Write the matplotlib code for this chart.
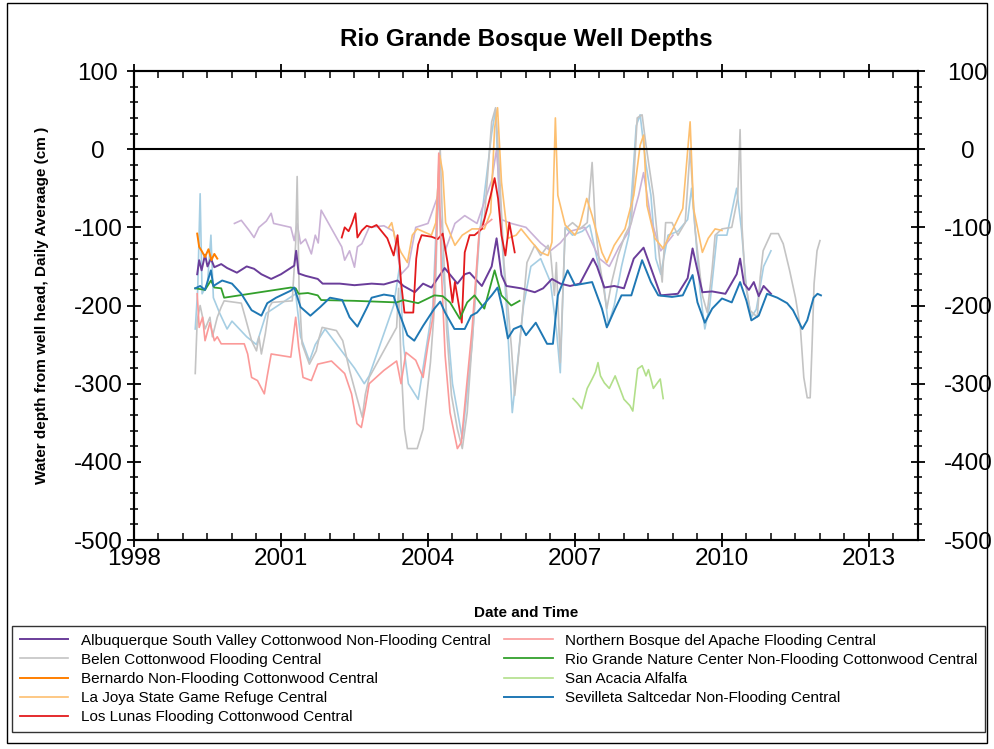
import numpy as np
import matplotlib
matplotlib.use("Agg")
import matplotlib.pyplot as plt
from matplotlib.ticker import MultipleLocator
from matplotlib.patches import Rectangle

plt.rcParams['font.family'] = ['Liberation Sans', 'DejaVu Sans']
plt.rcParams['axes.unicode_minus'] = False

# ---------------- data (decimal year, depth cm) ----------------
abq = [(1999.29,-160),(1999.33,-142),(1999.38,-155),(1999.45,-135),(1999.5,-150),(1999.57,-140),
       (1999.64,-151),(1999.78,-147),(1999.9,-152),(2000.1,-158),(2000.3,-150),(2000.45,-153),
       (2000.6,-160),(2000.8,-166),(2001.0,-160),(2001.27,-149),(2001.31,-130),(2001.36,-159),
       (2001.5,-162),(2001.75,-166),(2001.85,-172),(2002.2,-172),(2002.5,-174),(2002.85,-172),
       (2003.1,-173),(2003.38,-168),(2003.5,-175),(2003.73,-183),(2003.9,-172),(2004.07,-177),
       (2004.2,-165),(2004.34,-152),(2004.6,-172),(2004.75,-160),(2004.85,-158),(2005.1,-175),
       (2005.3,-150),(2005.4,-114),(2005.5,-161),(2005.6,-175),(2005.9,-178),(2006.18,-183),
       (2006.35,-178),(2006.53,-166),(2006.7,-172),(2006.9,-175),(2007.1,-172),(2007.37,-140),
       (2007.45,-150),(2007.6,-177),(2007.8,-175),(2008.0,-178),(2008.2,-140),(2008.4,-126),
       (2008.55,-152),(2008.75,-187),(2009.1,-185),(2009.3,-165),(2009.4,-127),(2009.6,-183),
       (2009.8,-182),(2010.07,-185),(2010.3,-160),(2010.37,-140),(2010.45,-172),(2010.55,-180),
       (2010.65,-170),(2010.75,-188),(2010.85,-175),(2011.0,-185)]

belen = [(1999.25,-287),(1999.29,-219),(1999.35,-200),(1999.45,-230),(1999.55,-215),(1999.6,-240),
         (1999.7,-215),(1999.78,-202),(1999.84,-194),(2000.19,-197),(2000.27,-215),(2000.4,-245),
         (2000.5,-258),(2000.55,-240),(2000.6,-262),(2000.68,-236),(2000.76,-202),(2000.82,-196),
         (2001.23,-194),(2001.3,-120),(2001.33,-35),(2001.37,-180),(2001.43,-249),(2001.58,-275),
         (2001.72,-258),(2001.78,-241),(2001.84,-228),(2002.13,-232),(2002.26,-245),(2002.4,-283),
         (2002.55,-318),(2002.66,-343),(2002.72,-314),(2002.8,-292),(2003.36,-228),(2003.4,-178),
         (2003.45,-273),(2003.52,-358),(2003.58,-383),(2003.78,-383),(2003.9,-358),(2004.05,-273),
         (2004.15,-187),(2004.22,-20),(2004.25,0),(2004.3,-102),(2004.38,-230),(2004.48,-315),
         (2004.6,-358),(2004.7,-383),(2004.8,-337),(2004.92,-230),(2005.05,-102),(2005.15,-89),
         (2005.3,35),(2005.38,53),(2005.45,-17),(2005.55,-145),(2005.7,-251),(2005.77,-315),
         (2005.9,-230),(2006.02,-145),(2006.18,-123),(2006.3,-136),(2006.45,-123),(2006.5,-132),
         (2006.58,-187),(2006.62,-145),(2006.7,-273),(2006.75,-187),(2006.8,-102),(2006.95,-94),
         (2007.1,-102),(2007.25,-94),(2007.35,-17),(2007.42,-102),(2007.5,-145),(2007.65,-204),
         (2007.75,-170),(2007.88,-136),(2008.02,-110),(2008.15,-94),(2008.27,40),(2008.37,44),
         (2008.45,5),(2008.6,-59),(2008.72,-136),(2008.78,-170),(2008.85,-94),(2008.98,-94),
         (2009.1,-110),(2009.25,-94),(2009.35,0),(2009.45,-102),(2009.6,-187),(2009.7,-209),
         (2009.8,-153),(2009.86,-110),(2010.0,-102),(2010.2,-100),(2010.27,-78),(2010.32,-62),
         (2010.37,25),(2010.41,-100),(2010.47,-164),(2010.57,-206),(2010.72,-215),(2010.78,-164),
         (2010.84,-130),(2011.0,-108),(2011.15,-108),(2011.25,-121),(2011.38,-155),(2011.5,-190),
         (2011.6,-228),(2011.67,-292),(2011.74,-318),(2011.8,-318),(2011.84,-249),(2011.88,-172),
         (2011.94,-130),(2012.0,-117)]

bernardo = [(1999.29,-108),(1999.33,-125),(1999.38,-130),(1999.45,-138),(1999.52,-128),
            (1999.58,-142),(1999.64,-134),(1999.7,-140)]

lajoya = [(2003.2,-100),(2003.26,-94),(2003.32,-112),(2003.45,-132),(2003.58,-145),(2003.68,-110),
          (2003.78,-102),(2004.07,-110),(2004.16,-94),(2004.24,-8),(2004.3,-29),(2004.36,-94),
          (2004.55,-123),(2004.7,-110),(2004.9,-102),(2005.15,-102),(2005.28,-81),(2005.36,27),
          (2005.42,53),(2005.5,-42),(2005.63,-114),(2005.8,-110),(2005.9,-102),(2006.12,-119),
          (2006.3,-132),(2006.45,-136),(2006.53,-119),(2006.6,40),(2006.65,-59),(2006.8,-97),
          (2007.0,-110),(2007.1,-97),(2007.24,-63),(2007.35,-85),(2007.55,-132),(2007.65,-145),
          (2007.8,-123),(2008.02,-102),(2008.2,-59),(2008.33,5),(2008.4,18),(2008.47,-72),
          (2008.63,-114),(2008.8,-127),(2009.04,-97),(2009.2,-76),(2009.35,35),(2009.42,-76),
          (2009.6,-132),(2009.72,-114),(2009.86,-102),(2010.0,-104)]

loslunas = [(2002.24,-113),(2002.3,-100),(2002.38,-105),(2002.45,-95),(2002.52,-82),(2002.56,-113),
            (2002.65,-104),(2002.75,-98),(2002.85,-100),(2002.95,-97),(2003.17,-114),(2003.3,-136),
            (2003.38,-110),(2003.45,-170),(2003.52,-209),(2003.7,-209),(2003.76,-140),(2003.8,-122),
            (2003.87,-110),(2004.07,-112),(2004.2,-115),(2004.3,-108),(2004.4,-145),(2004.5,-196),
            (2004.55,-170),(2004.69,-222),(2004.75,-132),(2004.85,-110),(2004.95,-110),(2005.1,-102),
            (2005.28,-59),(2005.36,-37),(2005.43,-63),(2005.5,-110),(2005.58,-136),(2005.66,-94),
            (2005.77,-132)]

nbosque = [(1999.29,-185),(1999.33,-228),(1999.4,-215),(1999.45,-245),(1999.55,-222),(1999.64,-245),
           (1999.7,-240),(1999.78,-249),(2000.25,-249),(2000.32,-262),(2000.4,-292),(2000.52,-296),
           (2000.66,-313),(2000.72,-290),(2000.8,-262),(2001.2,-266),(2001.3,-215),(2001.36,-253),
           (2001.45,-292),(2001.62,-296),(2001.75,-275),(2002.03,-271),(2002.3,-287),(2002.44,-313),
           (2002.55,-351),(2002.64,-356),(2002.72,-330),(2002.8,-300),(2003.1,-283),(2003.36,-271),
           (2003.45,-300),(2003.55,-260),(2003.75,-270),(2003.9,-292),(2004.0,-250),(2004.1,-215),
           (2004.17,-120),(2004.22,-5),(2004.27,-150),(2004.35,-264),(2004.45,-337),(2004.6,-383),
           (2004.68,-375),(2004.77,-315),(2004.9,-230),(2004.96,-178),(2005.05,-102),(2005.2,-95),
           (2005.3,-90)]

rgnc = [(1999.25,-178),(1999.45,-180),(1999.57,-168),(1999.64,-177),(1999.78,-178),(1999.84,-190),
        (2001.2,-177),(2001.3,-178),(2001.36,-185),(2001.55,-184),(2001.75,-187),(2001.82,-193),
        (2002.5,-194),(2003.36,-196),(2003.5,-193),(2003.8,-197),(2004.13,-187),(2004.3,-188),
        (2004.45,-196),(2004.65,-217),(2004.8,-196),(2004.95,-187),(2005.15,-204),(2005.36,-155),
        (2005.5,-187),(2005.7,-200),(2005.87,-194)]

sanacacia = [(2006.96,-319),(2007.05,-325),(2007.14,-332),(2007.25,-306),(2007.35,-294),(2007.42,-285),
             (2007.47,-273),(2007.52,-290),(2007.6,-299),(2007.7,-306),(2007.82,-290),(2007.88,-300),
             (2008.0,-320),(2008.12,-328),(2008.18,-335),(2008.28,-281),(2008.37,-277),(2008.45,-290),
             (2008.5,-282),(2008.6,-306),(2008.67,-300),(2008.74,-294),(2008.8,-319)]

sevilleta = [(1999.25,-178),(1999.35,-175),(1999.45,-180),(1999.57,-155),(1999.62,-175),(1999.8,-168),
             (2000.0,-172),(2000.19,-185),(2000.4,-206),(2000.6,-213),(2000.72,-197),(2000.9,-190),
             (2001.2,-181),(2001.27,-177),(2001.4,-202),(2001.6,-213),(2001.8,-202),(2002.0,-190),
             (2002.25,-193),(2002.4,-215),(2002.56,-227),(2002.76,-202),(2002.85,-190),(2003.1,-186),
             (2003.3,-188),(2003.38,-204),(2003.58,-238),(2003.72,-245),(2003.9,-226),(2004.13,-204),
             (2004.25,-195),(2004.35,-209),(2004.54,-230),(2004.75,-230),(2004.88,-213),(2005.0,-209),
             (2005.3,-187),(2005.42,-177),(2005.52,-204),(2005.63,-242),(2005.75,-230),(2005.9,-226),
             (2006.0,-238),(2006.2,-222),(2006.43,-249),(2006.55,-249),(2006.65,-187),(2006.85,-155),
             (2007.0,-174),(2007.35,-170),(2007.55,-204),(2007.65,-228),(2007.82,-204),(2007.95,-187),
             (2008.15,-187),(2008.37,-142),(2008.55,-170),(2008.7,-187),(2008.98,-189),(2009.2,-187),
             (2009.4,-161),(2009.5,-196),(2009.65,-222),(2009.8,-204),(2010.0,-191),(2010.2,-196),
             (2010.37,-170),(2010.5,-194),(2010.6,-219),(2010.75,-213),(2010.92,-185),(2011.13,-190),
             (2011.33,-197),(2011.45,-206),(2011.64,-230),(2011.74,-219),(2011.87,-190),(2011.95,-185),
             (2012.02,-187)]

# wells drawn but not listed in the legend
lightblue_well = [(1999.25,-230),(1999.3,-180),(1999.35,-57),(1999.39,-185),(1999.5,-172),(1999.57,-110),
                  (1999.62,-190),(1999.75,-210),(1999.9,-230),(2000.0,-220),(2000.3,-240),(2000.5,-250),
                  (2000.7,-210),(2001.3,-185),(2001.4,-240),(2001.58,-271),(2001.7,-250),(2001.9,-230),
                  (2002.5,-280),(2002.7,-300),(2002.8,-290),(2003.3,-200),(2003.42,-150),(2003.5,-250),
                  (2003.6,-300),(2003.8,-320),(2004.1,-200),(2004.2,-50),(2004.3,-150),(2004.5,-300),
                  (2004.7,-370),(2004.9,-250),(2005.05,-110),(2005.3,20),(2005.38,50),(2005.45,-60),
                  (2005.6,-200),(2005.72,-337),(2005.8,-290),(2005.95,-200),(2006.1,-150),(2006.3,-140),
                  (2006.5,-170),(2006.62,-230),(2006.7,-286),(2006.8,-100),(2006.95,-110),(2007.15,-105),
                  (2007.3,-97),(2007.45,-140),(2007.6,-180),(2007.68,-225),(2007.8,-200),(2007.95,-150),
                  (2008.1,-110),(2008.25,30),(2008.33,44),(2008.45,-20),(2008.55,-59),(2008.65,-140),
                  (2008.75,-160),(2008.9,-110),(2009.1,-105),(2009.3,-90),(2009.38,-50),(2009.45,-100),
                  (2009.55,-180),(2009.65,-230),(2009.75,-200),(2009.9,-110),(2010.1,-110),(2010.3,-50),
                  (2010.4,-104),(2010.5,-180),(2010.6,-215),(2010.7,-205),(2010.85,-150),(2011.0,-130)]

lavender_well = [(2000.05,-95),(2000.19,-91),(2000.35,-104),(2000.45,-113),(2000.55,-100),(2000.7,-92),
                 (2000.8,-82),(2000.85,-95),(2001.2,-100),(2001.27,-117),(2001.33,-95),(2001.4,-121),
                 (2001.5,-115),(2001.62,-134),(2001.7,-110),(2001.76,-120),(2001.82,-78),(2002.24,-125),
                 (2002.3,-142),(2002.4,-130),(2002.5,-151),(2002.56,-125),(2002.65,-121),(2002.8,-100),
                 (2003.1,-98),(2003.3,-105),(2003.45,-160),(2003.6,-150),(2003.75,-100),(2004.0,-95),
                 (2004.2,-60),(2004.35,-130),(2004.55,-95),(2004.75,-85),(2005.0,-95),(2005.3,-40),
                 (2005.4,0),(2005.5,-90),(2005.7,-95),(2006.0,-100),(2006.3,-120),(2006.5,-130),
                 (2006.7,-120),(2006.9,-105),(2007.2,-100),(2007.5,-140),(2007.7,-150),(2007.9,-125),
                 (2008.1,-105),(2008.3,-59),(2008.4,-30),(2008.55,-90),(2008.75,-130),(2009.0,-110)]

series = [
    ("Albuquerque South Valley Cottonwood Non-Flooding Central", abq, "#6a3d9a", 1.4),
    ("Belen Cottonwood Flooding Central", belen, "#c4c4c4", 1.2),
    ("Bernardo Non-Flooding Cottonwood Central", bernardo, "#ff7f00", 1.4),
    ("La Joya State Game Refuge Central", lajoya, "#fdbf6f", 1.2),
    ("Los Lunas Flooding Cottonwood Central", loslunas, "#e31a1c", 1.3),
    ("Northern Bosque del Apache Flooding Central", nbosque, "#fb9a99", 1.2),
    ("Rio Grande Nature Center Non-Flooding Cottonwood Central", rgnc, "#33a02c", 1.3),
    ("San Acacia Alfalfa", sanacacia, "#b2df8a", 1.2),
    ("Sevilleta Saltcedar Non-Flooding Central", sevilleta, "#1f78b4", 1.4),
]
extra = [(lightblue_well, "#a6cee3"), (lavender_well, "#cab2d6")]

fig = plt.figure(figsize=(9.94, 7.49), dpi=100)
ax = fig.add_axes([0.1348, 0.279, 0.7887, 0.6262])

for data, col in extra:
    d = np.array(data).T
    ax.plot(d[0], d[1], color=col, lw=1.2, zorder=2)

order_z = {"Belen Cottonwood Flooding Central": 2.5}
handles = []
for name, data, col, lw in series:
    d = np.array(data).T
    ln, = ax.plot(d[0], d[1], color=col, lw=lw, label=name, zorder=order_z.get(name, 3))
    handles.append(ln)

ax.axhline(0, color='black', lw=1.5, zorder=4)

ax.set_xlim(1998, 2014)
ax.set_ylim(-500, 100)
ax.xaxis.set_major_locator(MultipleLocator(3))
ax.xaxis.set_minor_locator(MultipleLocator(0.5))
ax.yaxis.set_major_locator(MultipleLocator(100))
ax.yaxis.set_minor_locator(MultipleLocator(20))
ax.xaxis.set_major_formatter(plt.FuncFormatter(lambda v, p: f"{int(round(v))}"))
ax.tick_params(axis='y', which='major', direction='inout', length=10, width=1.3,
               left=True, right=False, labelsize=17.5, pad=21)
ax.tick_params(axis='y', which='minor', direction='inout', length=6, width=1.1, left=True, right=False)
ax.tick_params(axis='x', which='major', direction='inout', length=10, width=1.3,
               top=True, labelsize=17.5, pad=1)
ax.tick_params(axis='x', which='minor', direction='in', length=5, width=1.1, top=True)
for lab in ax.get_yticklabels():
    lab.set_horizontalalignment('center')
for s in ax.spines.values():
    s.set_linewidth(1.5)

# right-hand axis duplicating the depth scale
ax2 = ax.twinx()
ax2.set_ylim(-500, 100)
ax2.yaxis.set_major_locator(MultipleLocator(100))
ax2.yaxis.set_minor_locator(MultipleLocator(20))
ax2.tick_params(axis='y', which='major', direction='inout', length=10, width=1.3, labelsize=17.5, pad=31)
ax2.tick_params(axis='y', which='minor', direction='inout', length=6, width=1.1)
for lab in ax2.get_yticklabels():
    lab.set_horizontalalignment('center')
for s in ax2.spines.values():
    s.set_linewidth(1.5)

ax.set_title("Rio Grande Bosque Well Depths", fontsize=17.5, fontweight='bold', pad=18)
ax.set_xlabel("Date and Time", fontsize=11, fontweight='bold', labelpad=26)
ax.set_ylabel("Water depth from well head, Daily Averaage (cm )", fontsize=11, fontweight='bold')
ax.yaxis.set_label_coords(-0.108, 0.5)

leg = fig.legend(handles=handles, loc='upper left', bbox_to_anchor=(0.012, 0.028, 0.979, 0.136),
                 mode='expand', ncol=2, fontsize=11, frameon=True, fancybox=False,
                 handlelength=3.2, labelspacing=0.33, borderaxespad=0.0, borderpad=0.5)
leg.get_frame().set_edgecolor('black')
leg.get_frame().set_linewidth(1.0)

fig.patches.append(Rectangle((0.007, 0.008), 0.986, 0.988, transform=fig.transFigure,
                             fill=False, edgecolor='black', lw=1.0))

fig.savefig("out.png", dpi=100)
